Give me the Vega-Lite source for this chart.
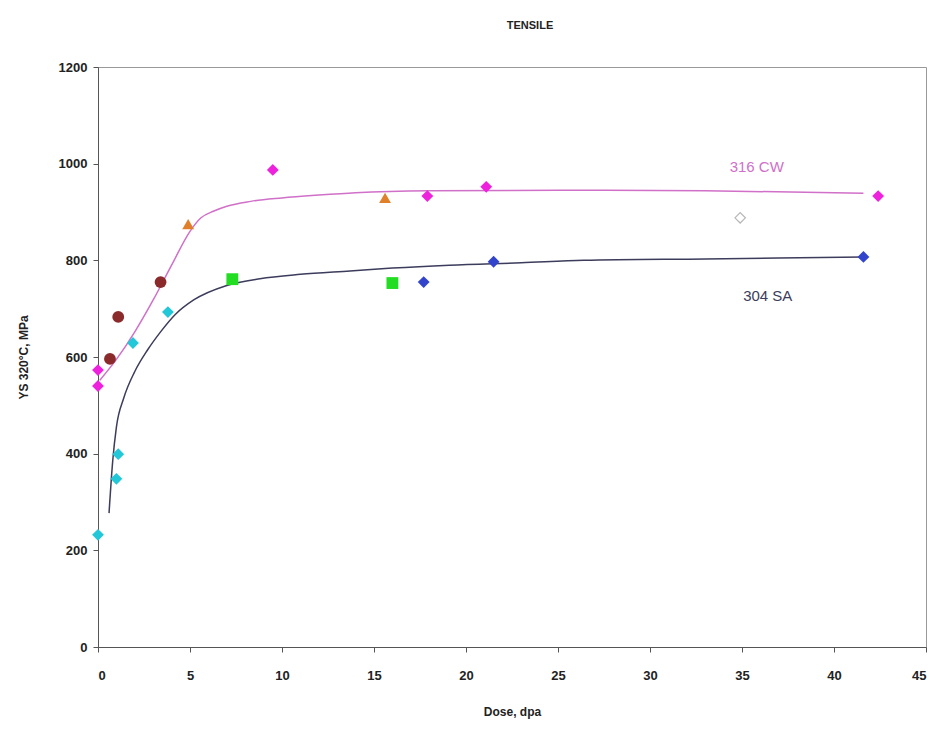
{
  "$schema": "https://vega.github.io/schema/vega-lite/v6.json",
  "width": 828,
  "height": 580,
  "autosize": "none",
  "padding": {"left": 98, "top": 67, "right": 11, "bottom": 82},
  "background": "white",
  "title": {"text": "TENSILE", "fontSize": 11, "fontWeight": "bold", "font": "Liberation Sans", "color": "#222", "offset": 30, "dx": 18},
  "config": {
    "view": {"stroke": "#999", "strokeWidth": 1},
    "axis": {"grid": false, "domainColor": "#555", "tickColor": "#555", "labelFont": "Liberation Sans", "labelFontSize": 13, "labelFontWeight": "bold", "labelColor": "#222", "titleFont": "Liberation Sans", "titleFontSize": 12, "titleFontWeight": "bold", "titleColor": "#222", "tickSize": 5}
  },
  "datasets": {
    "curves": [
      {"curve": "316 CW", "dose": 0.1, "ys": 552},
      {"curve": "316 CW", "dose": 1, "ys": 595},
      {"curve": "316 CW", "dose": 2, "ys": 652},
      {"curve": "316 CW", "dose": 3, "ys": 718},
      {"curve": "316 CW", "dose": 4, "ys": 790},
      {"curve": "316 CW", "dose": 5, "ys": 860},
      {"curve": "316 CW", "dose": 5.6, "ys": 888},
      {"curve": "316 CW", "dose": 6.3, "ys": 902},
      {"curve": "316 CW", "dose": 7, "ys": 912},
      {"curve": "316 CW", "dose": 8.3, "ys": 922},
      {"curve": "316 CW", "dose": 10, "ys": 929},
      {"curve": "316 CW", "dose": 12, "ys": 935},
      {"curve": "316 CW", "dose": 14, "ys": 940},
      {"curve": "316 CW", "dose": 18, "ys": 944},
      {"curve": "316 CW", "dose": 25, "ys": 945},
      {"curve": "316 CW", "dose": 33, "ys": 944},
      {"curve": "316 CW", "dose": 41.6, "ys": 939},
      {"curve": "304 SA", "dose": 0.6, "ys": 277},
      {"curve": "304 SA", "dose": 0.8, "ys": 385},
      {"curve": "304 SA", "dose": 1.0, "ys": 455},
      {"curve": "304 SA", "dose": 1.4, "ys": 515},
      {"curve": "304 SA", "dose": 2.0, "ys": 570},
      {"curve": "304 SA", "dose": 2.7, "ys": 615},
      {"curve": "304 SA", "dose": 3.4, "ys": 652},
      {"curve": "304 SA", "dose": 4.2, "ys": 688},
      {"curve": "304 SA", "dose": 5.2, "ys": 718},
      {"curve": "304 SA", "dose": 7.0, "ys": 748},
      {"curve": "304 SA", "dose": 8.8, "ys": 762},
      {"curve": "304 SA", "dose": 11, "ys": 771},
      {"curve": "304 SA", "dose": 13.7, "ys": 778},
      {"curve": "304 SA", "dose": 16, "ys": 784},
      {"curve": "304 SA", "dose": 19.1, "ys": 790},
      {"curve": "304 SA", "dose": 23, "ys": 795},
      {"curve": "304 SA", "dose": 26.4, "ys": 800},
      {"curve": "304 SA", "dose": 33, "ys": 803},
      {"curve": "304 SA", "dose": 41.6, "ys": 807}
    ],
    "points": [
      {"group": "M", "dose": 0.0, "ys": 573},
      {"group": "M", "dose": 0.0, "ys": 540},
      {"group": "M", "dose": 9.5, "ys": 987},
      {"group": "M", "dose": 17.9, "ys": 933},
      {"group": "M", "dose": 21.1, "ys": 952},
      {"group": "M", "dose": 42.4, "ys": 933},
      {"group": "Br", "dose": 0.65, "ys": 596},
      {"group": "Br", "dose": 1.1, "ys": 683},
      {"group": "Br", "dose": 3.4, "ys": 755},
      {"group": "Or", "dose": 4.9, "ys": 875},
      {"group": "Or", "dose": 15.6, "ys": 929},
      {"group": "Cy", "dose": 0.0, "ys": 232},
      {"group": "Cy", "dose": 1.0, "ys": 348},
      {"group": "Cy", "dose": 1.1, "ys": 399},
      {"group": "Cy", "dose": 1.9, "ys": 629},
      {"group": "Cy", "dose": 3.8, "ys": 693},
      {"group": "Gr", "dose": 7.3, "ys": 761},
      {"group": "Gr", "dose": 16.0, "ys": 753},
      {"group": "Bl", "dose": 17.7, "ys": 755},
      {"group": "Bl", "dose": 21.5, "ys": 797},
      {"group": "Bl", "dose": 41.6, "ys": 807}
    ],
    "hollow": [
      {"dose": 34.9, "ys": 888}
    ],
    "labels": [
      {"label": "316 CW", "dose": 35.8, "ys": 993},
      {"label": "304 SA", "dose": 36.4, "ys": 726}
    ]
  },
  "layer": [
    {
      "data": {"name": "curves"},
      "mark": {"type": "line", "strokeWidth": 1.5, "interpolate": "monotone"},
      "encoding": {
        "x": {"field": "dose", "type": "quantitative", "scale": {"domain": [0, 45]}, "axis": {"title": "Dose, dpa", "values": [0, 5, 10, 15, 20, 25, 30, 35, 40, 45], "format": "d", "labelPadding": 17, "titlePadding": 24}},
        "y": {"field": "ys", "type": "quantitative", "scale": {"domain": [0, 1200]}, "axis": {"title": "YS 320°C, MPa", "values": [0, 200, 400, 600, 800, 1000, 1200], "format": "d", "labelPadding": 6, "titlePadding": 28}},
        "color": {"field": "curve", "type": "nominal", "scale": {"domain": ["316 CW", "304 SA"], "range": ["#d070c8", "#3c3c5c"]}, "legend": null}
      }
    },
    {
      "data": {"name": "points"},
      "mark": {"type": "point", "filled": true, "opacity": 1, "size": 140},
      "encoding": {
        "x": {"field": "dose", "type": "quantitative"},
        "y": {"field": "ys", "type": "quantitative"},
        "fill": {"field": "group", "type": "nominal", "scale": {"domain": ["M", "Br", "Or", "Cy", "Gr", "Bl"], "range": ["#ee22dd", "#8a2a2a", "#e0802a", "#22c8d8", "#22dd22", "#3344cc"]}, "legend": null},
        "shape": {"field": "group", "type": "nominal", "scale": {"domain": ["M", "Br", "Or", "Cy", "Gr", "Bl"], "range": ["diamond", "circle", "triangle-up", "diamond", "square", "diamond"]}, "legend": null}
      }
    },
    {
      "data": {"name": "hollow"},
      "mark": {"type": "point", "shape": "diamond", "filled": false, "fill": "white", "stroke": "#999", "strokeWidth": 1.2, "size": 110},
      "encoding": {
        "x": {"field": "dose", "type": "quantitative"},
        "y": {"field": "ys", "type": "quantitative"}
      }
    },
    {
      "data": {"name": "labels"},
      "mark": {"type": "text", "font": "Liberation Sans", "fontSize": 15},
      "encoding": {
        "x": {"field": "dose", "type": "quantitative"},
        "y": {"field": "ys", "type": "quantitative"},
        "text": {"field": "label"},
        "color": {"field": "label", "type": "nominal", "scale": {"domain": ["316 CW", "304 SA"], "range": ["#b84aa8", "#3a3a9a"]}, "legend": null}
      }
    }
  ]
}
